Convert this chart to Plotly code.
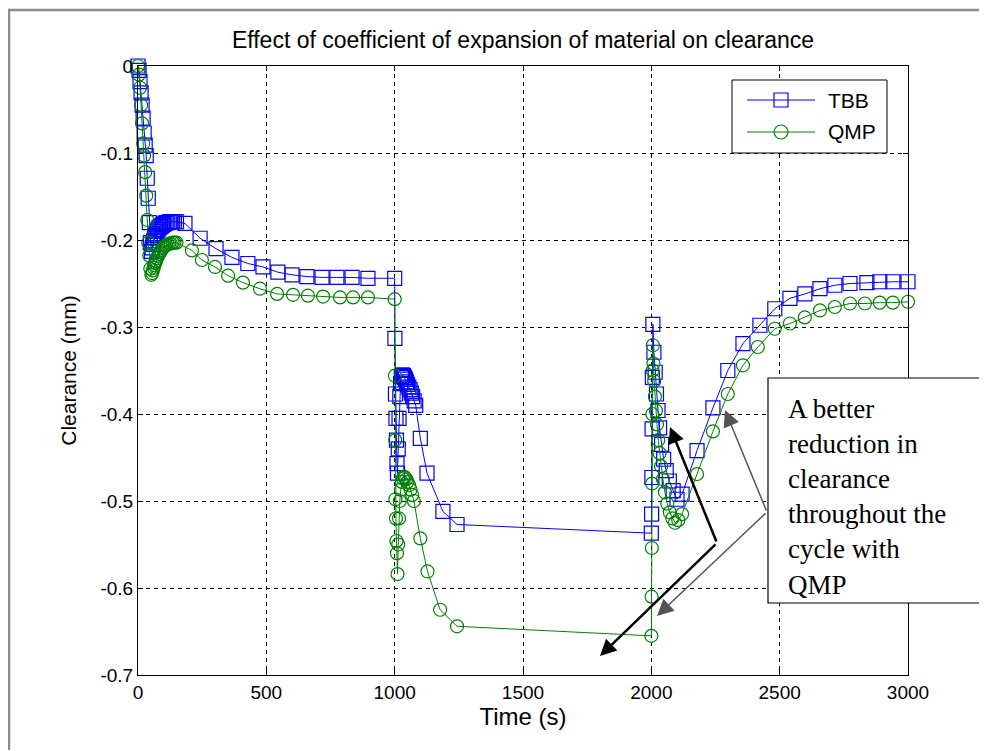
import plotly.graph_objects as go

# ---------------- data ----------------
tbb_time = [0, 4, 8, 12, 16, 20, 24, 28, 32, 36, 40, 44, 48, 52,
            55, 58, 61, 64, 67, 70, 74, 78, 82, 86, 90, 95, 100, 105, 110, 116, 122, 128, 135, 142, 150,
            183, 242, 304, 366, 428, 487, 545, 600, 658, 717, 775, 834, 896, 1000,
            1001, 1003, 1005, 1007, 1009, 1011, 1014, 1017, 1020, 1023, 1026, 1030, 1034, 1038, 1042,
            1046, 1050, 1055, 1060, 1065, 1070, 1076, 1082, 1100, 1126, 1188, 1243, 2000,
            2001, 2002, 2003, 2004, 2006, 2010, 2015, 2020, 2026, 2032, 2040, 2048, 2058, 2070,
            2085, 2100, 2120, 2178, 2240, 2298, 2357, 2423, 2481, 2540, 2598, 2657, 2715, 2774,
            2840, 2890, 2941, 3000]
tbb_clear = [0, -0.005, -0.018, -0.031, -0.045, -0.06, -0.077, -0.091, -0.103, -0.129, -0.152, -0.18, -0.203, -0.213,
             -0.209, -0.205, -0.201, -0.198, -0.195, -0.193, -0.19, -0.188, -0.186, -0.185, -0.184, -0.183, -0.182,
             -0.181, -0.18, -0.18, -0.179, -0.179, -0.179, -0.179, -0.179,
             -0.181, -0.198, -0.21, -0.22, -0.227, -0.231, -0.237, -0.24, -0.242, -0.243, -0.243, -0.243, -0.244, -0.244,
             -0.313, -0.377, -0.405, -0.43, -0.457, -0.468, -0.44, -0.405, -0.38, -0.365, -0.357, -0.355, -0.356,
             -0.358, -0.36, -0.363, -0.366, -0.369, -0.372, -0.376, -0.38, -0.385, -0.39, -0.428, -0.468, -0.512,
             -0.527, -0.537,
             -0.515, -0.473, -0.417, -0.358, -0.297, -0.329, -0.352, -0.377, -0.396, -0.416, -0.435, -0.452, -0.465,
             -0.477, -0.488, -0.498, -0.492, -0.442, -0.393, -0.35, -0.319, -0.298, -0.279, -0.267, -0.262, -0.256,
             -0.252, -0.25, -0.249, -0.248, -0.248, -0.248]

qmp_time = [0, 4, 8, 12, 16, 20, 24, 28, 32, 36, 40, 44, 48, 52,
            55, 58, 61, 64, 67, 70, 74, 78, 82, 86, 90, 95, 100, 105, 110, 116, 122, 128, 135, 142, 150,
            210, 249, 300, 351, 409, 475, 542, 604, 662, 721, 787, 838, 896, 1000,
            1001, 1002, 1003, 1005, 1007, 1009, 1011, 1014, 1017, 1020, 1024, 1028, 1032, 1036, 1040, 1045,
            1050, 1056, 1062, 1068, 1075, 1100, 1128, 1177, 1243, 2000,
            2001, 2002, 2003, 2004, 2005, 2006, 2008, 2011, 2014, 2018, 2022, 2027, 2032, 2038, 2045, 2053,
            2062, 2072, 2082, 2092, 2105, 2120, 2178, 2240, 2298, 2357, 2415, 2481, 2540, 2598, 2657, 2715,
            2774, 2832, 2890, 2941, 3000]
qmp_clear = [0, -0.01, -0.025, -0.045, -0.066, -0.089, -0.103, -0.122, -0.149, -0.177, -0.203, -0.218, -0.233, -0.24,
             -0.238, -0.235, -0.232, -0.229, -0.226, -0.224, -0.221, -0.218, -0.216, -0.214, -0.212, -0.21, -0.208,
             -0.207, -0.206, -0.205, -0.204, -0.204, -0.203, -0.203, -0.203,
             -0.212, -0.223, -0.231, -0.241, -0.249, -0.256, -0.262, -0.263, -0.264, -0.265, -0.266, -0.266, -0.266, -0.268,
             -0.356, -0.43, -0.498, -0.52, -0.546, -0.56, -0.584, -0.55, -0.52, -0.5, -0.487, -0.478, -0.474, -0.472,
             -0.473, -0.475, -0.478, -0.482, -0.487, -0.493, -0.5, -0.543, -0.581, -0.625, -0.644, -0.655,
             -0.61, -0.554, -0.48, -0.4, -0.35, -0.321, -0.342, -0.362, -0.38, -0.396, -0.412, -0.43, -0.445, -0.46,
             -0.475, -0.49, -0.503, -0.513, -0.52, -0.525, -0.522, -0.515, -0.469, -0.42, -0.377, -0.344, -0.323,
             -0.302, -0.296, -0.289, -0.281, -0.277, -0.273, -0.273, -0.272, -0.272, -0.271]

x_ticks = [0, 500, 1000, 1500, 2000, 2500, 3000]
y_ticks = [0, -0.1, -0.2, -0.3, -0.4, -0.5, -0.6, -0.7]
y_tick_text = ["0", "-0.1", "-0.2", "-0.3", "-0.4", "-0.5", "-0.6", "-0.7"]

series_names = ["TBB", "QMP"]
series_colors = ["#0000FF", "#008000"]
title_text = "Effect of coefficient of expansion of material on clearance"
note_lines = ["A better", "reduction in", "clearance", "throughout the", "cycle with", "QMP"]

# ---------------- figure ----------------
SANS = "Liberation Sans, Arial, sans-serif"
SERIF = "Liberation Serif, Times New Roman, serif"

fig = go.Figure()
fig.add_trace(go.Scatter(
    x=tbb_time, y=tbb_clear, name=series_names[0], mode="lines+markers",
    line=dict(color=series_colors[0], width=1),
    marker=dict(symbol="square-open", size=14, color=series_colors[0], line=dict(width=1.2)),
    cliponaxis=False, showlegend=False,
))
fig.add_trace(go.Scatter(
    x=qmp_time, y=qmp_clear, name=series_names[1], mode="lines+markers",
    line=dict(color=series_colors[1], width=1),
    marker=dict(symbol="circle-open", size=13, color=series_colors[1], line=dict(width=1.2)),
    cliponaxis=False, showlegend=False,
))

OFF = 8  # page body margin
W, H = 987 - OFF, 751 - OFF
PX0, PX1, PY0, PY1 = 138, 908, 66, 675   # plot area in page pixels
L, T = PX0 - OFF, PY0 - OFF
PW, PH = PX1 - PX0, PY1 - PY0
R, B = W - L - PW, H - T - PH
EDGE_R = 986   # right edge of the page
EDGE_B = 750   # bottom edge of the page


def px(xp):
    return (xp - PX0) / PW


def py(yp):
    return (PY1 - yp) / PH


axis_common = dict(
    showline=True, linecolor="black", linewidth=1, mirror="ticks",
    ticks="inside", ticklen=5, tickcolor="black",
    showgrid=True, gridcolor="black", gridwidth=1, griddash="4px,4px",
    zeroline=False,
    tickfont=dict(family=SANS, size=19, color="black"),
)

fig.update_xaxes(range=[0, 3000], tickvals=x_ticks,
                 title=dict(text="Time (s)", font=dict(family=SANS, size=24, color="black"), standoff=6),
                 **axis_common)
fig.update_yaxes(range=[-0.7, 0], tickvals=y_ticks, ticktext=y_tick_text,
                 title=dict(text="Clearance (mm)", font=dict(family=SANS, size=21, color="black"), standoff=18),
                 **axis_common)

shapes = [
    # outer grey frame of the screenshot
    dict(type="path", xref="paper", yref="paper",
         path=f"M {px(9)},{py(EDGE_B)} L {px(9)},{py(10)} L {px(EDGE_R)},{py(10)}",
         line=dict(color="#8c8c8c", width=2.5), layer="above"),
    # annotation box (white fill, right side runs off the picture)
    dict(type="rect", xref="paper", yref="paper",
         x0=px(768), x1=px(EDGE_R), y0=py(603), y1=py(378),
         line=dict(width=0), fillcolor="white", layer="above"),
    dict(type="path", xref="paper", yref="paper",
         path=f"M {px(EDGE_R)},{py(378)} L {px(768)},{py(378)} L {px(768)},{py(603)} L {px(EDGE_R)},{py(603)}",
         line=dict(color="black", width=1.2), layer="above"),
    # legend box
    dict(type="rect", xref="paper", yref="paper",
         x0=px(732), x1=px(887), y0=py(153), y1=py(80),
         line=dict(color="black", width=1), fillcolor="white", layer="above"),
]

annotations = [
    dict(xref="paper", yref="paper", x=px(786), y=py(497), xanchor="left", yanchor="middle",
         align="left", showarrow=False, text="<br>".join(note_lines),
         font=dict(family=SERIF, size=27, color="black")),
]

# legend entries: line sample, marker sample, label
legend_rows = [100, 132]
legend_symbols = ["rect", "circle"]
for name, col, yrow, sym in zip(series_names, series_colors, legend_rows, legend_symbols):
    shapes.append(dict(type="line", xref="paper", yref="paper",
                       x0=px(747), x1=px(815), y0=py(yrow), y1=py(yrow),
                       line=dict(color=col, width=1), layer="above"))
    shapes.append(dict(type=sym, xref="paper", yref="paper",
                       x0=px(774), x1=px(788), y0=py(yrow + 7), y1=py(yrow - 7),
                       line=dict(color=col, width=1.2), fillcolor="rgba(0,0,0,0)", layer="above"))
    annotations.append(dict(xref="paper", yref="paper", x=px(826), y=py(yrow),
                            xanchor="left", yanchor="middle", showarrow=False, text=name,
                            font=dict(family=SANS, size=21, color="black")))


def t_of(xp):
    return (xp - PX0) / PW * 3000


def c_of(yp):
    return -(yp - PY0) / PH * 0.7


arrows = [
    ((717, 543), (670, 427), "black", 2.5, 1.3),
    ((717, 543), (600, 656), "black", 2.5, 1.3),
    ((767, 512), (725, 410), "#555555", 1.5, 2.2),
    ((767, 512), (657, 616), "#555555", 1.5, 2.2),
]
for (tx, ty), (hx, hy), col, w, s in arrows:
    annotations.append(dict(
        xref="x", yref="y", axref="x", ayref="y",
        x=t_of(hx), y=c_of(hy), ax=t_of(tx), ay=c_of(ty),
        text="", showarrow=True, arrowhead=2, arrowsize=s, arrowwidth=w,
        arrowcolor=col, standoff=0, startstandoff=0,
    ))

fig.update_layout(
    width=W, height=H,
    margin=dict(l=L, r=R, t=T, b=B),
    paper_bgcolor="white", plot_bgcolor="white",
    title=dict(text=title_text, x=0.5, xref="paper", xanchor="center",
               y=(H - (40 - OFF)) / H, yref="container", yanchor="middle",
               font=dict(family=SANS, size=23, color="black")),
    shapes=shapes,
    annotations=annotations,
    showlegend=False,
)

fig.write_html(
    "out.html",
    config={"displayModeBar": False},
    post_script="document.documentElement.style.overflow='hidden';document.body.style.overflow='hidden';",
)
